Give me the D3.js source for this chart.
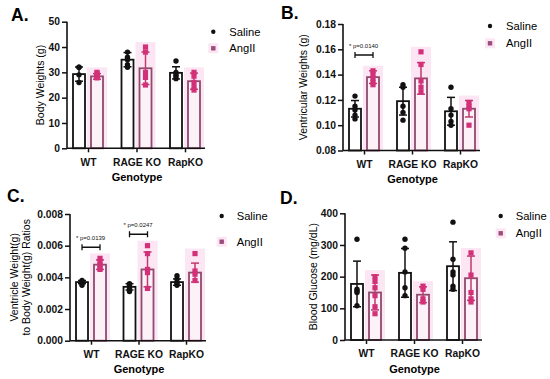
<!DOCTYPE html>
<html>
<head>
<meta charset="utf-8">
<script src="https://cdn.jsdelivr.net/npm/d3@7"></script>
<style>
  body { margin: 0; background: #fff; }
  svg { display: block; font-family: "Liberation Sans", Arial, sans-serif; }
</style>
</head>
<body>
<svg id="fig" width="550" height="379"></svg>
<script>
// Categories
const genotypes = ["WT", "RAGE KO", "RapKO"];
const groups = ["Saline", "AngII"];

// A. Body weights (g)
const bwSalineMean = [29.3, 35.0, 29.8];
const bwSalineSD = [2.8, 2.8, 2.4];
const bwSalinePts = [[32, 32, 29, 26], [38, 36, 35, 33, 32], [34.5, 30, 29, 28.5, 27.5]];
const bwAngMean = [28.4, 31.6, 26.5];
const bwAngSD = [1.1, 6.4, 3.2];
const bwAngPts = [[30, 29.5, 28.5, 28, 27.8], [40, 38, 30, 28, 25], [30, 28.5, 26, 24, 23]];

// B. Ventricular weights (g)
const vwSalineMean = [0.113, 0.119, 0.111];
const vwSalineSD = [0.0065, 0.011, 0.011];
const vwSalinePts = [[0.123, 0.115, 0.112, 0.108, 0.105], [0.132, 0.130, 0.115, 0.110, 0.104], [0.130, 0.113, 0.108, 0.103, 0.100]];
const vwAngMean = [0.138, 0.137, 0.113];
const vwAngSD = [0.005, 0.0125, 0.0065];
const vwAngPts = [[0.143, 0.140, 0.137, 0.134, 0.132], [0.158, 0.148, 0.135, 0.130, 0.126], [0.118, 0.115, 0.113, 0.100]];

// C. Ventricle weight to body weight ratio
const ratioSalineMean = [0.0037, 0.0034, 0.0037];
const ratioSalineSD = [0.0001, 0.0002, 0.0002];
const ratioSalinePts = [[0.0038, 0.0037, 0.0036, 0.0035], [0.0036, 0.0035, 0.0033, 0.0031], [0.0041, 0.0039, 0.0037, 0.0036, 0.0035]];
const ratioAngMean = [0.0048, 0.0045, 0.0043];
const ratioAngSD = [0.0003, 0.0011, 0.0006];
const ratioAngPts = [[0.0052, 0.0050, 0.0048, 0.0046, 0.0045], [0.0060, 0.0055, 0.0045, 0.0043, 0.0033], [0.0055, 0.0044, 0.0042, 0.0038]];

// D. Blood glucose (mg/dL)
const bgSalineMean = [177, 212, 233];
const bgSalineSD = [72, 77, 77];
const bgSalinePts = [[318, 160, 155, 150, 108], [318, 290, 215, 165, 140], [372, 255, 215, 205, 170, 160]];
const bgAngMean = [150, 143, 195];
const bgAngSD = [55, 25, 70];
const bgAngPts = [[200, 185, 165, 140, 105, 83], [170, 160, 130, 120], [275, 205, 150, 130, 120]];

// Significance annotations: genotype index, label, bracket height (data units)
const sigB = [{ g: 0, label: "p=0.0140", y: 0.1555 }];
const sigC = [{ g: 0, label: "p=0.0139", y: 0.0059 }, { g: 1, label: "p=0.0247", y: 0.00672 }];

// Tick values
const ticksA = [0, 10, 20, 30, 40, 50];
const ticksB = [0.08, 0.10, 0.12, 0.14, 0.16, 0.18];
const ticksC = [0, 0.002, 0.004, 0.006, 0.008];
const ticksD = [0, 100, 200, 300, 400];

const BLACK = "#111";
const ANG_BAR = "#8f4a6e";
const ANG_PT = "#d3307a";
const ANG_ERR = "#c2386f";
const HALO = "#fce6f3";

const svg = d3.select("#fig");

const panels = [
  { letter: "A.", lx: 11, ly: 20.5, x0: 67, x1: 205, top: 21.7, bottom: 148.3,
    domain: [0, 50], ticks: ticksA, fmt: d3.format("d"),
    title: ["Body Weights (g)"], titleX: [44],
    sal: [bwSalineMean, bwSalineSD, bwSalinePts], ang: [bwAngMean, bwAngSD, bwAngPts],
    sig: [], leg: { x: 213.3, y1: 31.7, y2: 48.3, tx: 229.3 } },
  { letter: "B.", lx: 281, ly: 18.5, x0: 343, x1: 480, top: 24, bottom: 150.5,
    domain: [0.08, 0.18], ticks: ticksB, fmt: d3.format(".2f"),
    title: ["Ventricular Weights (g)"], titleX: [307],
    sal: [vwSalineMean, vwSalineSD, vwSalinePts], ang: [vwAngMean, vwAngSD, vwAngPts],
    sig: sigB, leg: { x: 490, y1: 26, y2: 43.3, tx: 506 } },
  { letter: "C.", lx: 7, ly: 201.5, x0: 70, x1: 206, top: 214, bottom: 340.7,
    domain: [0, 0.008], ticks: ticksC, fmt: d3.format(".3f"),
    title: ["Ventricle Weight(g)", "to Body Weight(g) Ratios"], titleX: [18, 30],
    sal: [ratioSalineMean, ratioSalineSD, ratioSalinePts], ang: [ratioAngMean, ratioAngSD, ratioAngPts],
    sig: sigC, leg: { x: 221.7, y1: 216, y2: 241.7, tx: 236.7 } },
  { letter: "D.", lx: 280, ly: 203.5, x0: 345, x1: 482, top: 213.3, bottom: 340,
    domain: [0, 400], ticks: ticksD, fmt: d3.format("d"),
    title: ["Blood Glucose (mg/dL)"], titleX: [317],
    sal: [bgSalineMean, bgSalineSD, bgSalinePts], ang: [bgAngMean, bgAngSD, bgAngPts],
    sig: [], leg: { x: 500.7, y1: 216, y2: 233.3, tx: 515.7 } }
];

function drawPanel(p) {
  const g = svg.append("g");
  const y = d3.scaleLinear().domain(p.domain).range([p.bottom, p.top]);
  const x = d3.scalePoint().domain(genotypes).range([p.x0 + 21, p.x1 - 20]);
  const xs = d3.scaleBand().domain(groups).range([-15, 15]).paddingInner(1 / 3).paddingOuter(0);
  const bw = xs.bandwidth();

  // panel letter
  g.append("text").attr("x", p.lx).attr("y", p.ly)
    .attr("font-size", 17.5).attr("font-weight", "bold").text(p.letter);

  // halos behind AngII bars
  const [am, asd, apts] = p.ang;
  genotypes.forEach((gt, i) => {
    const hi = Math.max(am[i] + asd[i], d3.max(apts[i]));
    const cx = x(gt) + xs("AngII") + bw / 2;
    g.append("rect")
      .attr("x", cx - bw / 2 - 4).attr("width", bw + 8)
      .attr("y", y(hi) - 5).attr("height", p.bottom - y(hi) + 5)
      .attr("fill", HALO);
  });

  // bars, error bars and points
  [["Saline", p.sal], ["AngII", p.ang]].forEach(([grp, [mean, sd, pts]]) => {
    const sal = grp === "Saline";
    genotypes.forEach((gt, i) => {
      const cx = x(gt) + xs(grp) + bw / 2;
      g.append("rect")
        .attr("x", cx - bw / 2).attr("width", bw)
        .attr("y", y(mean[i])).attr("height", p.bottom - y(mean[i]))
        .attr("fill", sal ? "#fff" : "#fdf1f8")
        .attr("stroke", sal ? BLACK : ANG_BAR).attr("stroke-width", 1.8);
      const ec = sal ? BLACK : ANG_ERR;
      const lo = y(Math.max(p.domain[0], mean[i] - sd[i])), hi = y(mean[i] + sd[i]);
      g.append("line").attr("x1", cx).attr("x2", cx).attr("y1", lo).attr("y2", hi)
        .attr("stroke", ec).attr("stroke-width", 1.5);
      [lo, hi].forEach(v => g.append("line")
        .attr("x1", cx - 4).attr("x2", cx + 4).attr("y1", v).attr("y2", v)
        .attr("stroke", ec).attr("stroke-width", 1.5));
      pts[i].forEach(v => {
        if (sal) {
          g.append("circle").attr("cx", cx).attr("cy", y(v)).attr("r", 2.7).attr("fill", BLACK);
        } else {
          g.append("rect").attr("x", cx - 2.6).attr("y", y(v) - 2.6)
            .attr("width", 5.2).attr("height", 5.2).attr("fill", ANG_PT);
        }
      });
    });
  });

  // axes
  const yAxis = g.append("g").attr("transform", `translate(${p.x0},0)`)
    .call(d3.axisLeft(y).tickValues(p.ticks).tickFormat(p.fmt).tickSize(5).tickPadding(2));
  yAxis.select(".domain").attr("stroke", BLACK).attr("stroke-width", 1.6).attr("d", `M0,${p.top}V${p.bottom}`);
  yAxis.selectAll(".tick line").attr("stroke", BLACK).attr("stroke-width", 1.5);
  yAxis.selectAll(".tick text").attr("font-size", 10.3).attr("font-weight", "bold")
    .attr("font-family", "Liberation Sans, Arial, sans-serif").attr("fill", BLACK);

  const xAxis = g.append("g").attr("transform", `translate(0,${p.bottom})`)
    .call(d3.axisBottom(x).tickSize(4).tickPadding(6));
  xAxis.select(".domain").attr("stroke", BLACK).attr("stroke-width", 1.6).attr("d", `M${p.x0},0H${p.x1}`);
  xAxis.selectAll(".tick line").attr("stroke", BLACK).attr("stroke-width", 1.5);
  xAxis.selectAll(".tick text").attr("font-size", 10.3).attr("font-weight", "bold")
    .attr("font-family", "Liberation Sans, Arial, sans-serif").attr("fill", BLACK);

  // axis titles
  g.append("text").attr("x", (p.x0 + p.x1) / 2 + 1).attr("y", p.bottom + 32.5)
    .attr("text-anchor", "middle").attr("font-size", 11).attr("font-weight", "bold")
    .text("Genotype");
  const midY = (p.top + p.bottom) / 2;
  p.title.forEach((t, k) => {
    g.append("text")
      .attr("transform", `translate(${p.titleX[k]},${midY}) rotate(-90)`)
      .attr("text-anchor", "middle").attr("font-size", 10.5).attr("fill", "#000")
      .text(t);
  });

  // significance brackets
  p.sig.forEach(s => {
    const xa = x(genotypes[s.g]) + xs("Saline") + bw / 2;
    const xb = x(genotypes[s.g]) + xs("AngII") + bw / 2;
    const yy = y(s.y);
    g.append("path")
      .attr("d", `M${xa},${yy - 3}V${yy + 3}M${xa},${yy}H${xb}M${xb},${yy - 3}V${yy + 3}`)
      .attr("stroke", BLACK).attr("stroke-width", 1.3).attr("fill", "none");
    g.append("text").attr("x", xa - 6).attr("y", yy - 7)
      .attr("font-size", 6).attr("fill", BLACK).text("* " + s.label);
  });

  // legend
  const L = p.leg;
  g.append("circle").attr("cx", L.x).attr("cy", L.y1).attr("r", 2.2).attr("fill", BLACK);
  g.append("rect").attr("x", L.x - 5).attr("y", L.y2 - 5).attr("width", 10).attr("height", 10).attr("fill", HALO);
  g.append("rect").attr("x", L.x - 2.2).attr("y", L.y2 - 2.2).attr("width", 4.4).attr("height", 4.4).attr("fill", "#9a4c7a");
  g.append("text").attr("x", L.tx).attr("y", L.y1 + 4).attr("font-size", 11.2).text("Saline");
  g.append("text").attr("x", L.tx).attr("y", L.y2 + 4).attr("font-size", 11.2).text("AngII");
}

panels.forEach(drawPanel);
</script>
</body>
</html>
